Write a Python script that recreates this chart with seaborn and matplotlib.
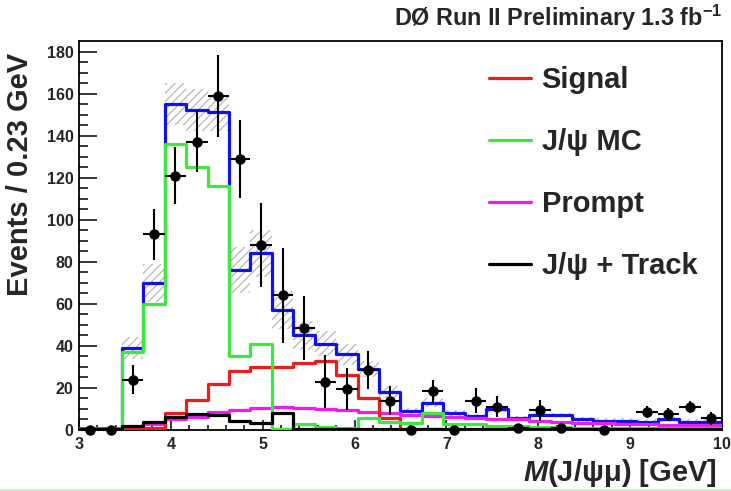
import numpy as np
import pandas as pd
import matplotlib
matplotlib.use("Agg")
import matplotlib.pyplot as plt
from matplotlib.lines import Line2D
import seaborn as sns

# 30 bins of 7/30 GeV between 3 and 10 GeV
bin_edges = np.linspace(3.0, 10.0, 31)
bin_centers = 0.5 * (bin_edges[:-1] + bin_edges[1:])

# Stacked total of all contributions
total = [0, 0, 39, 70, 155, 152, 151, 76, 84, 57, 45, 41, 36, 29, 18, 9, 13, 8, 6.5, 10,
         5.5, 7, 7, 5, 4.5, 4.5, 4, 5, 4, 4]
# Uncertainty on the total
total_unc = [0, 0, 5, 9, 10, 10, 9, 11, 11, 9, 7, 6, 5, 4, 3, 1.5, 2, 1.5, 1, 1.5,
             1, 1, 1, 1, 1, 1, 1, 1, 1, 1]
# Individual components
signal = [0, 0, 0.3, 1, 8, 14.5, 22, 28, 30, 30, 32, 33, 26, 15, 5.5, 0.5, 0.3, 0.2, 0.2, 0.2,
          0.2, 0.2, 0.2, 0.2, 0.2, 0.2, 0.2, 0.2, 0.2, 0.2]
jpsi_mc = [0, 0, 37, 60, 136, 125, 116, 35, 41, 0.5, 3, 1.5, 1, 5.7, 4, 3.5, 8, 3, 3, 2,
           2, 1.5, 1.5, 1, 1, 1, 1, 1, 1, 1]
prompt = [1, 1, 1, 3, 5, 6, 8.5, 9.5, 10.5, 11, 10.5, 10, 9.5, 8.5, 8, 7, 6.5, 6, 5.5, 5,
          5, 4.5, 4, 3.5, 3.5, 3, 3, 2.5, 2.5, 2.5]
jpsi_track = [0.5, 0.5, 2, 4, 6.2, 7.5, 7, 4.5, 3.5, 8, 0.5, 0.5, 0.5, 0.5, 0.5, 0.5, 0.5, 0.5,
              0.5, 0.5, 0.5, 0.5, 0.5, 0.5, 0.5, 0.5, 0.5, 0.5, 0.5, 0.5]

# Observed events and their uncertainties (NaN = empty bin, not drawn)
data = [0, 0, 24, 93, 121, 137, 159, 129, 88, 64, 48.5, 23, 19.5, 28.5, 14, 0, 18.5, 0, 14, 11,
        1, 9.5, 1, np.nan, 0, np.nan, 8.5, 7.5, 11, 5.5]
data_err = [0, 0, 7, 12, 13.5, 14.5, 19.5, 18.5, 20, 22.5, 15, 12.5, 10, 9, 7, 0, 5.5, 0, 6, 5,
            0, 5, 0, 0, 0, 0, 3, 3, 3, 3]

legend_labels = ["Signal", "J/ψ MC", "Prompt", "J/ψ + Track"]
colors = {"total": "#1010f0", "Signal": "#ee1c1c", "J/ψ MC": "#3ee83e",
          "Prompt": "#ee1cee", "J/ψ + Track": "#000000"}

sns.set_theme(style="ticks")
plt.rcParams["font.family"] = ["Liberation Sans", "DejaVu Sans"]
plt.rcParams["font.weight"] = "bold"
plt.rcParams["mathtext.fontset"] = "custom"
plt.rcParams["mathtext.it"] = "Liberation Sans:bold:italic"
plt.rcParams["mathtext.rm"] = "Liberation Sans:bold"
plt.rcParams["hatch.linewidth"] = 0.9
plt.rcParams["hatch.color"] = "#b8b8b8"

fig = plt.figure(figsize=(7.31, 4.91), dpi=100)
fig.patch.set_facecolor("white")
ax = fig.add_axes([79 / 731, 1 - 430 / 491, 643 / 731, 389 / 491])

# Hatched uncertainty band on the total
tot = np.array(total, dtype=float)
unc = np.array(total_unc, dtype=float)
lo = np.append(tot - unc, (tot - unc)[-1])
hi = np.append(tot + unc, (tot + unc)[-1])
ax.fill_between(bin_edges, lo, hi, step="post", facecolor="none",
                edgecolor="#b8b8b8", hatch="////", linewidth=0, zorder=1)

hist_df = pd.DataFrame({
    "mass": np.tile(bin_centers, 5),
    "events": np.concatenate([total, jpsi_track, prompt, signal, jpsi_mc]),
    "component": np.repeat(["total", "J/ψ + Track", "Prompt", "Signal", "J/ψ MC"], 30),
})

edge_list = [float(e) for e in bin_edges]
order = ["total", "Prompt", "Signal", "J/ψ MC", "J/ψ + Track"]
for z, name in enumerate(order):
    sub = hist_df[hist_df["component"] == name]
    sns.histplot(data=sub, x="mass", weights="events", bins=edge_list,
                 element="step", fill=False, color=colors[name],
                 linewidth=2.3, ax=ax, zorder=2 + z)

# Data points with error bars
ax.errorbar(bin_centers, data, yerr=data_err, xerr=(bin_edges[1] - bin_edges[0]) / 2,
            fmt="o", color="black", markersize=6.5, elinewidth=1.5, capsize=0,
            zorder=10, clip_on=False)

ax.set_xlim(3, 10)
ax.set_ylim(0, 185)

ax.set_xticks(np.arange(3, 11, 1))
ax.set_xticks(np.arange(3, 10.01, 0.2), minor=True)
ax.set_yticks(np.arange(0, 181, 20))
ax.set_yticks(np.arange(0, 185, 5), minor=True)
ax.tick_params(axis="both", which="both", direction="in", top=False, right=False,
               labelsize=11.5, width=1.1, color="black")
ax.tick_params(axis="x", which="major", length=7.5, pad=5)
ax.tick_params(axis="x", which="minor", length=3.8)
ax.tick_params(axis="y", which="major", length=13, pad=4)
ax.tick_params(axis="y", which="minor", length=6.5)
for lab in ax.get_xticklabels() + ax.get_yticklabels():
    lab.set_fontweight("bold")
for sp in ax.spines.values():
    sp.set_visible(True)
    sp.set_linewidth(1.3)
    sp.set_color("black")

ax.set_ylabel("Events / 0.23 GeV", fontsize=21, fontweight="bold", loc="top")
ax.yaxis.set_label_coords(-(79 - 34) / 643, (430 - 53) / 389)
ax.set_xlabel(r"$\mathit{M}$(J/ψμ) [GeV]", fontsize=21, fontweight="bold", loc="right")
ax.xaxis.set_label_coords((717 - 79) / 643, -(473 - 430) / 389)
ax.xaxis.label.set_va("center")

fig.text(722 / 731, 1 - 18 / 491, r"DØ Run II Preliminary 1.3 fb$^{\mathregular{-1}}$",
         ha="right", va="center", fontsize=16.8, fontweight="bold")

handles = [Line2D([], [], color=colors[n], linewidth=2.3) for n in legend_labels]
leg = ax.legend(handles, legend_labels, loc="upper left",
                bbox_to_anchor=(489 / 731, 1 - 66 / 491), bbox_transform=fig.transFigure,
                frameon=False, fontsize=21, handlelength=1.45, handletextpad=0.35,
                labelspacing=1.17, borderpad=0, borderaxespad=0)
for t in leg.get_texts():
    t.set_fontweight("bold")

# thin pale green strip along the lower edge of the page
fig.add_artist(Line2D([0, 1], [1.5 / 491, 1.5 / 491], transform=fig.transFigure,
                      color="#c8f5c8", linewidth=2.5))

fig.savefig("out.png", dpi=100, facecolor="white")
